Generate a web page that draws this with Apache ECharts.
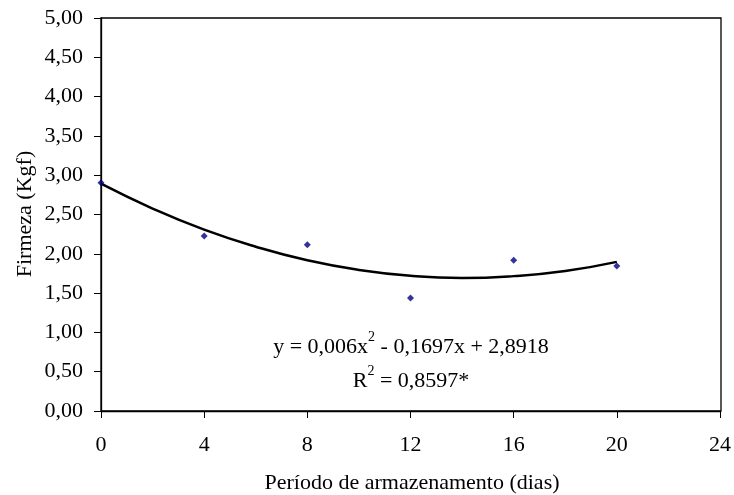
<!DOCTYPE html>
<html><head><meta charset="utf-8">
<script src="https://cdn.jsdelivr.net/npm/echarts@6/dist/echarts.min.js"></script>
<style>html,body{margin:0;padding:0;background:#fff}#c{width:734px;height:495px}</style>
</head><body><div id="c"></div>
<script>
var days = [0, 4, 8, 12, 16, 20];
var firmeza = [2.905, 2.226, 2.116, 1.438, 1.917, 1.845];
var trendX = [0, 2, 4, 6, 8, 10, 12, 14, 16, 18, 20];
var trendY = [2.892, 2.576, 2.307, 2.090, 1.917, 1.795, 1.720, 1.692, 1.716, 1.781, 1.897];
var yTicks = ['0,00','0,50','1,00','1,50','2,00','2,50','3,00','3,50','4,00','4,50','5,00'];
var xTitle = 'Período de armazenamento (dias)';
var yTitle = 'Firmeza (Kgf)';
var eqLine1 = ['y = 0,006x', '2', ' - 0,1697x + 2,8918'];
var eqLine2 = ['R', '2', ' = 0,8597*'];

var font = 'Liberation Serif';
var fs = 22;
var chart = echarts.init(document.getElementById('c'), null, {renderer: 'canvas'});
var rich = {
  a: {fontFamily: font, fontSize: fs, color: '#000', lineHeight: 34},
  s: {fontFamily: font, fontSize: 14, color: '#000', verticalAlign: 'top', lineHeight: 34, padding: [0,0,12,0]}
};
chart.setOption({
  animation: false,
  backgroundColor: '#fff',
  grid: {left: 101, right: 13, top: 18, bottom: 84},
  xAxis: {
    type: 'value', min: 0, max: 24, interval: 4,
    axisLine: {show: true, onZero: false, lineStyle: {color: '#000', width: 1.3}},
    axisTick: {show: true, inside: false, length: 7, lineStyle: {color: '#000'}},
    axisLabel: {fontFamily: font, fontSize: fs, color: '#000', margin: 23},
    splitLine: {show: false}
  },
  yAxis: {
    type: 'value', min: 0, max: 5, interval: 0.5,
    axisLine: {show: true, lineStyle: {color: '#000', width: 1.3}},
    axisTick: {show: true, inside: false, length: 7, lineStyle: {color: '#000'}},
    axisLabel: {fontFamily: font, fontSize: fs, color: '#000', margin: 18,
      formatter: function (v) { return yTicks[Math.round(v * 2)]; }},
    splitLine: {show: false}
  },
  graphic: [
    {type: 'rect', shape: {x: 101, y: 18, width: 620, height: 393}, style: {fill: 'none', stroke: '#000', lineWidth: 1.3}, silent: true, z: 0},
    {type: 'text', x: 412, y: 483, style: {text: xTitle, fontFamily: font, fontSize: fs, fill: '#000', align: 'center', verticalAlign: 'middle'}},
    {type: 'text', x: 25, y: 214, rotation: Math.PI / 2, style: {text: yTitle, fontFamily: font, fontSize: fs, fill: '#000', align: 'center', verticalAlign: 'middle'}},
    {type: 'text', x: 411, y: 364, style: {
      text: '{a|' + eqLine1[0] + '}{s|' + eqLine1[1] + '}{a|' + eqLine1[2] + '}\n{a|' + eqLine2[0] + '}{s|' + eqLine2[1] + '}{a|' + eqLine2[2] + '}',
      rich: rich, align: 'center', verticalAlign: 'middle'}}
  ],
  series: [
    {type: 'line', data: trendX.map(function (x, i) { return [x, trendY[i]]; }), smooth: true,
      showSymbol: false, lineStyle: {color: '#000', width: 2.5}, z: 2},
    {type: 'scatter', data: days.map(function (x, i) { return [x, firmeza[i]]; }),
      symbol: 'diamond', symbolSize: 7, itemStyle: {color: '#000080'}, z: 3}
  ]
});
</script></body></html>
